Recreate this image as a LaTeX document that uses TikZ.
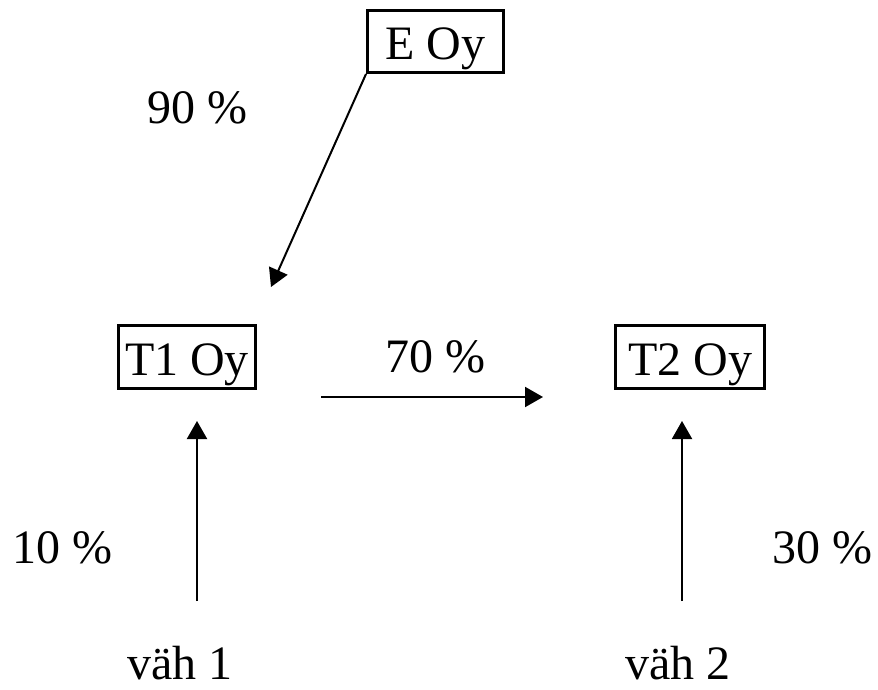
\documentclass[tikz,border=0pt]{standalone}
\usepackage{fontspec}
\setmainfont{Liberation Serif}
\usetikzlibrary{arrows.meta}
\begin{document}
\begin{tikzpicture}[x=1pt,y=-1pt,
  every node/.style={font=\fontsize{48}{58}\selectfont, inner sep=0pt},
  boxnode/.style={draw, line width=3pt, minimum height=63pt, text height=36pt, text depth=0pt},
  lbl/.style={anchor=base},
  conn/.style={line width=2pt, -{Triangle[length=18pt,width=20pt]}}]
\useasboundingbox (0,0) rectangle (878,690);
\node[boxnode, minimum width=136pt, minimum height=62pt] (E) at (435.5,41.5) {E Oy};
\node[boxnode, minimum width=137pt] (T1) at (187,357) {T1 Oy};
\node[boxnode, minimum width=149pt] (T2) at (690,357) {T2 Oy};
\node[lbl] (l90) at (197.5,124) {90 \%};
\node[lbl] (l70) at (435,372) {70 \%};
\node[lbl] (l10) at (62.5,563) {10 \%};
\node[lbl] (l30) at (822.5,563) {30 \%};
\node[lbl] (v1) at (180,679) {väh 1};
\node[lbl] (v2) at (678,679) {väh 2};
\coordinate (t1in) at (271,287);
\coordinate (hs) at (321,397);
\coordinate (he) at (543,397);
\coordinate (v1s) at (197,601);
\coordinate (v1e) at (197,421);
\coordinate (v2s) at (682,601);
\coordinate (v2e) at (682,421);
\draw[conn] (E.south west) -- (t1in);
\draw[conn] (hs) -- (he);
\draw[conn] (v1s) -- (v1e);
\draw[conn] (v2s) -- (v2e);
\end{tikzpicture}
\end{document}
